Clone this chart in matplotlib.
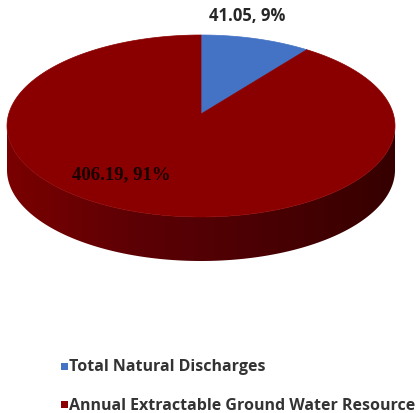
import numpy as np
import matplotlib.pyplot as plt
from matplotlib.patches import Polygon, Rectangle
from matplotlib.colors import LinearSegmentedColormap

# Ground water budget (billion cubic metres)
labels = ["Total Natural Discharges", "Annual Extractable Ground Water Resource"]
values = [41.05, 406.19]
colors = ["#4472C4", "#8A0000"]

W, H = 420, 414
fig = plt.figure(figsize=(W / 100, H / 100), dpi=100)
ax = fig.add_axes([0, 0, 1, 1])
ax.set_xlim(0, W)
ax.set_ylim(H, 0)
ax.axis("off")

# pie geometry in pixel space: top ellipse, apex of the wedges, extrusion depth
cx, cy, a, b, depth = 201, 127, 194, 91, 44
apex = (201, 115)


def rim(t):
    # t is measured clockwise from 12 o'clock
    return cx + a * np.sin(t), cy - b * np.cos(t)


# side wall: front half of the rim pushed down by depth, shaded left to right
ts = np.linspace(np.pi / 2, 3 * np.pi / 2, 300)
xs, ys = rim(ts)
wall = list(zip(xs, ys)) + list(zip(xs[::-1], ys[::-1] + depth))
wall_patch = Polygon(wall, closed=True, facecolor="none", edgecolor="none")
ax.add_patch(wall_patch)
shade = LinearSegmentedColormap.from_list(
    "wall", ["#7a0000", "#5c0005", "#4a0003", "#360000"])
grad = np.linspace(0, 1, 256)[None, :]
img = ax.imshow(grad, cmap=shade, aspect="auto",
                extent=(cx - a, cx + a, cy + b + depth, cy), zorder=1)
img.set_clip_path(wall_patch)

# top face wedges, starting at 12 o'clock and going clockwise
total = sum(values)
start = 0.0
for v, col in zip(values, colors):
    span = 2 * np.pi * v / total
    t = np.linspace(start, start + span, 200)
    px, py = rim(t)
    pts = [apex] + list(zip(px, py))
    ax.add_patch(Polygon(pts, closed=True, facecolor=col, edgecolor=col,
                         lw=0.5, zorder=2))
    start += span

# data labels
pcts = [100 * v / total for v in values]
ax.text(247, 16, f"{values[0]:.2f}, {pcts[0]:.0f}%", ha="center", va="center",
        fontsize=12, fontweight="bold", family="Open Sans", color="#262626",
        zorder=3)
ax.text(121, 175, f"{values[1]:.2f}, {pcts[1]:.0f}%", ha="center", va="center",
        fontsize=13.5, fontweight="bold", family="Liberation Serif",
        color="#180000", zorder=3)

# legend
for i, (lab, col) in enumerate(zip(labels, colors)):
    ly = 367 + 39 * i
    ax.add_patch(Rectangle((61, ly - 3.5), 7, 7, facecolor=col, edgecolor="none"))
    ax.text(69, ly, lab, ha="left", va="center", fontsize=11.5,
            fontweight="bold", family="Open Sans", color="#333333")

fig.savefig("out.png", dpi=100)
